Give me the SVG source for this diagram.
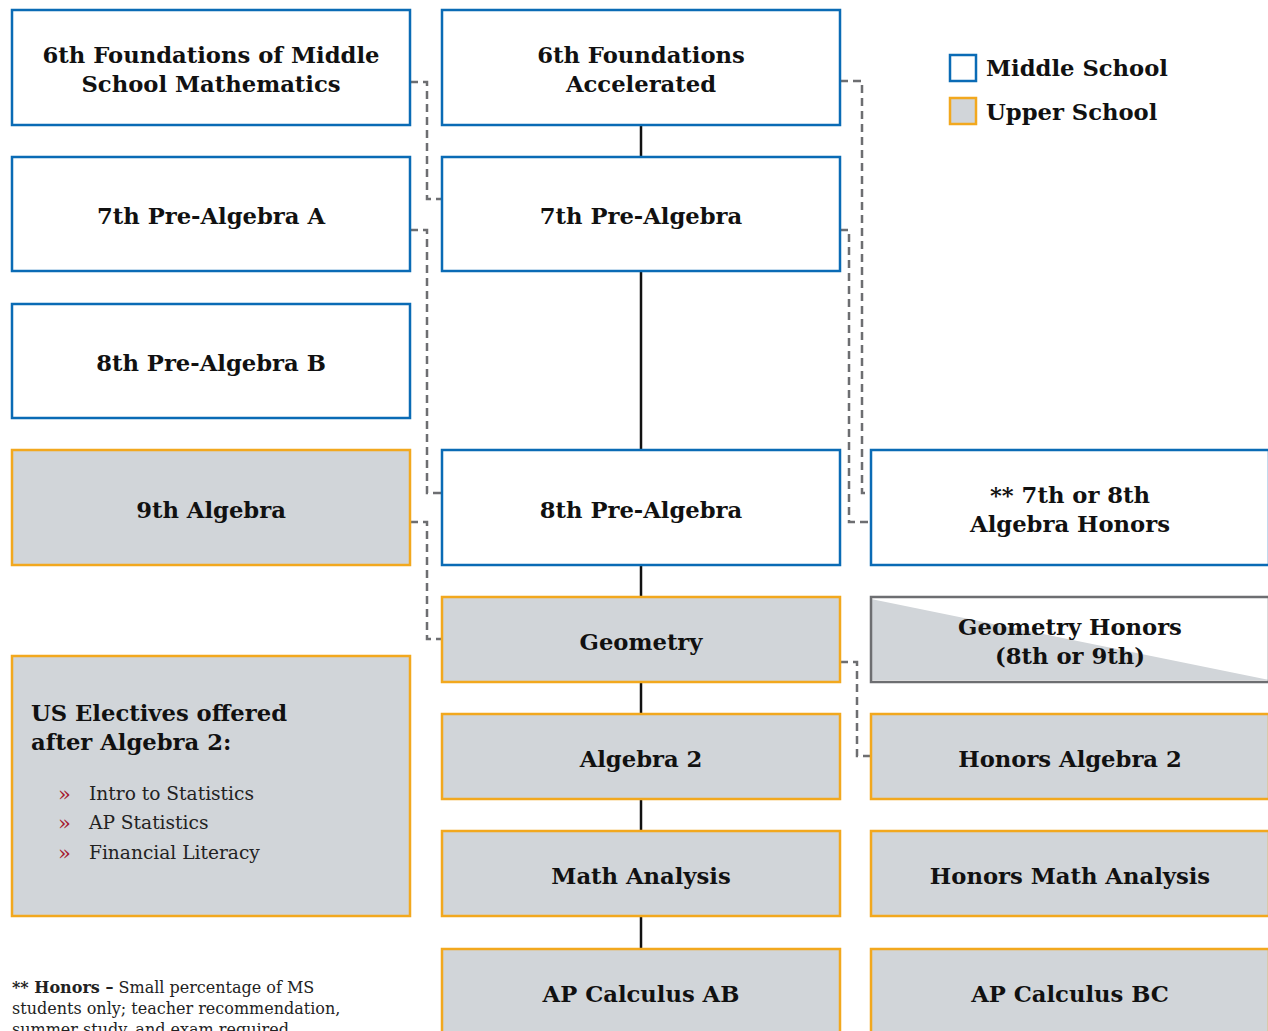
<svg xmlns="http://www.w3.org/2000/svg" width="1268" height="1031" viewBox="0 0 1268 1031">
<style>
.ms{fill:#ffffff;stroke:#0a6bb5;stroke-width:2.5}
.us{fill:#d1d5d9;stroke:#f2a81e;stroke-width:2.5}
.t{font-family:"DejaVu Serif","Liberation Serif",serif;font-weight:bold;font-size:22.7px;fill:#111;text-anchor:middle}
.lg{font-family:"DejaVu Serif","Liberation Serif",serif;font-weight:bold;font-size:22.7px;fill:#111}
.solid{stroke:#111;stroke-width:2.5;fill:none}
.dash{stroke:#6d6e71;stroke-width:2.5;fill:none;stroke-dasharray:8 5}
.li{font-family:"DejaVu Serif","Liberation Serif",serif;font-size:18.6px;fill:#222}
.bu{font-family:"DejaVu Serif","Liberation Serif",serif;font-size:21px;fill:#a6192e}
.fn{font-family:"DejaVu Serif","Liberation Serif",serif;font-size:16px;fill:#222}
</style>
<rect width="1268" height="1031" fill="#ffffff"/>
<g id="connectors">
<path class="solid" d="M641 125V157M641 271V450M641 565V597M641 682V714M641 799V831M641 916V949"/>
<path class="dash" d="M410 82H427V199H442"/>
<path class="dash" d="M410 230H427V493H442"/>
<path class="dash" d="M410 522H427V639H442"/>
<path class="dash" d="M840 81H862V493H871"/>
<path class="dash" d="M840 230H849V522H871"/>
<path class="dash" d="M840 662H857V756H871"/>
</g>
<g id="n1"><rect class="ms" x="12" y="10" width="398" height="115"/><text class="t" x="211" y="63">6th Foundations of Middle</text><text class="t" x="211" y="92">School Mathematics</text></g>
<g id="n2"><rect class="ms" x="442" y="10" width="398" height="115"/><text class="t" x="641" y="63">6th Foundations</text><text class="t" x="641" y="92">Accelerated</text></g>
<g id="n3"><rect class="ms" x="12" y="157" width="398" height="114"/><text class="t" x="211" y="224">7th Pre-Algebra A</text></g>
<g id="n4"><rect class="ms" x="442" y="157" width="398" height="114"/><text class="t" x="641" y="224">7th Pre-Algebra</text></g>
<g id="n5"><rect class="ms" x="12" y="304" width="398" height="114"/><text class="t" x="211" y="371">8th Pre-Algebra B</text></g>
<g id="n6"><rect class="us" x="12" y="450" width="398" height="115"/><text class="t" x="211" y="518">9th Algebra</text></g>
<g id="n7"><rect class="ms" x="442" y="450" width="398" height="115"/><text class="t" x="641" y="518">8th Pre-Algebra</text></g>
<g id="n8"><rect class="ms" x="871" y="450" width="398" height="115"/><text class="t" x="1070" y="503">** 7th or 8th</text><text class="t" x="1070" y="532">Algebra Honors</text></g>
<g id="n9"><rect class="us" x="442" y="597" width="398" height="85"/><text class="t" x="641" y="650">Geometry</text></g>
<g id="n10"><rect x="871" y="597" width="398" height="85" fill="#ffffff"/><polygon points="871,599 1269,680 871,680" fill="#d1d5d9"/><rect x="871" y="597" width="398" height="85" fill="none" stroke="#6d6e71" stroke-width="2.5"/><text class="t" x="1070" y="635">Geometry Honors</text><text class="t" x="1070" y="664">(8th or 9th)</text></g>
<g id="n11"><rect class="us" x="442" y="714" width="398" height="85"/><text class="t" x="641" y="767">Algebra 2</text></g>
<g id="n12"><rect class="us" x="871" y="714" width="398" height="85"/><text class="t" x="1070" y="767">Honors Algebra 2</text></g>
<g id="n13"><rect class="us" x="442" y="831" width="398" height="85"/><text class="t" x="641" y="884">Math Analysis</text></g>
<g id="n14"><rect class="us" x="871" y="831" width="398" height="85"/><text class="t" x="1070" y="884">Honors Math Analysis</text></g>
<g id="n15"><rect class="us" x="442" y="949" width="398" height="90"/><text class="t" x="641" y="1002">AP Calculus AB</text></g>
<g id="n16"><rect class="us" x="871" y="949" width="398" height="90"/><text class="t" x="1070" y="1002">AP Calculus BC</text></g>
<g id="electives"><rect class="us" x="12" y="656" width="398" height="260"/>
<text class="lg" x="31" y="721">US Electives offered</text><text class="lg" x="31" y="750">after Algebra 2:</text>
<text class="bu" x="58" y="801">»</text><text class="li" x="89" y="800">Intro to Statistics</text>
<text class="bu" x="58" y="830">»</text><text class="li" x="89" y="829">AP Statistics</text>
<text class="bu" x="58" y="860">»</text><text class="li" x="89" y="859">Financial Literacy</text>
</g>
<g id="legend">
<rect x="950" y="55" width="26" height="26" fill="#ffffff" stroke="#0a6bb5" stroke-width="2.5"/><text class="lg" x="986" y="76">Middle School</text>
<rect x="950" y="98" width="26" height="26" fill="#d1d5d9" stroke="#f2a81e" stroke-width="2.5"/><text class="lg" x="986" y="120">Upper School</text>
</g>
<g id="footnote">
<text class="fn" x="12" y="993"><tspan font-weight="bold">** Honors –</tspan> Small percentage of MS</text>
<text class="fn" x="12" y="1014">students only; teacher recommendation,</text>
<text class="fn" x="12" y="1035">summer study, and exam required</text>
</g>
</svg>
